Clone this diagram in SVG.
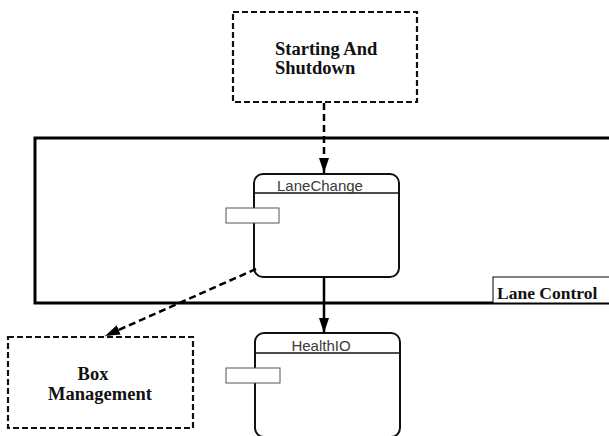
<svg xmlns="http://www.w3.org/2000/svg" width="609" height="436" viewBox="0 0 609 436">
  <style>
    .bg { fill: #ffffff; }
    .ext { fill: #ffffff; stroke: #111; stroke-width: 2.2; stroke-dasharray: 6 3; }
    .ext-label { font-family: "Liberation Serif", "Times New Roman", serif; font-weight: bold; font-size: 18.5px; fill: #111; }
    .frame { fill: none; stroke: #000; stroke-width: 3; }
    .frame-tag { fill: #ffffff; stroke: #000; stroke-width: 1; }
    .frame-label { font-family: "Liberation Serif", "Times New Roman", serif; font-weight: bold; font-size: 17.5px; fill: #111; }
    .comp { fill: #ffffff; stroke: #111; stroke-width: 2; }
    .comp-sep { stroke: #111; stroke-width: 1.5; }
    .comp-label { font-family: "Liberation Sans", Arial, sans-serif; font-size: 15px; fill: #3a3a3a; }
    .port { fill: #ffffff; stroke: #555; stroke-width: 1; }
    .link { fill: none; stroke: #000; stroke-width: 2.5; }
    .link.dashed { stroke-dasharray: 7 4; }
  </style>
  <defs>
    <marker id="head-lg" viewBox="0 0 10 10" refX="10" refY="5" markerWidth="15" markerHeight="10" markerUnits="userSpaceOnUse" orient="auto" preserveAspectRatio="none">
      <path d="M0,0 L10,5 L0,10 z" fill="#000"/>
    </marker>
  </defs>

  <rect class="bg" x="0" y="0" width="609" height="436"/>

  <!-- Lane Control frame (open to the right) -->
  <g id="lane-control">
    <path class="frame" d="M612,138 L35,138 L35,303 L612,303"/>
    <rect class="frame-tag" x="493" y="277" width="120" height="26"/>
    <text class="frame-label" x="497" y="299">Lane Control</text>
  </g>

  <!-- Starting And Shutdown -->
  <g id="starting-and-shutdown">
    <rect class="ext" x="233" y="12" width="184" height="90"/>
    <text class="ext-label" x="275" y="55">Starting And</text>
    <text class="ext-label" x="275" y="74">Shutdown</text>
  </g>

  <!-- Box Management -->
  <g id="box-management">
    <rect class="ext" x="8" y="337" width="185" height="91"/>
    <text class="ext-label" x="93" y="380" text-anchor="middle">Box</text>
    <text class="ext-label" x="100" y="400" text-anchor="middle">Management</text>
  </g>

  <!-- LaneChange component -->
  <g id="lane-change">
    <rect class="comp" x="254" y="174" width="145" height="103" rx="9" ry="9"/>
    <line class="comp-sep" x1="254" y1="193" x2="399" y2="193"/>
    <text class="comp-label" x="320" y="191" text-anchor="middle">LaneChange</text>
    <rect class="port" x="226" y="208" width="53" height="15"/>
  </g>

  <!-- HealthIO component -->
  <g id="health-io">
    <rect class="comp" x="255" y="333" width="145" height="104" rx="9" ry="9"/>
    <line class="comp-sep" x1="255" y1="353" x2="400" y2="353"/>
    <text class="comp-label" x="321" y="351" text-anchor="middle">HealthIO</text>
    <rect class="port" x="226" y="368" width="54" height="15"/>
  </g>

  <!-- connectors -->
  <g id="connectors">
    <line class="link dashed" x1="324" y1="103" x2="324" y2="173" marker-end="url(#head-lg)"/>
    <line class="link" x1="324" y1="278" x2="324" y2="333" marker-end="url(#head-lg)"/>
    <line class="link dashed" x1="256" y1="269" x2="105" y2="336" marker-end="url(#head-lg)"/>
  </g>
</svg>
